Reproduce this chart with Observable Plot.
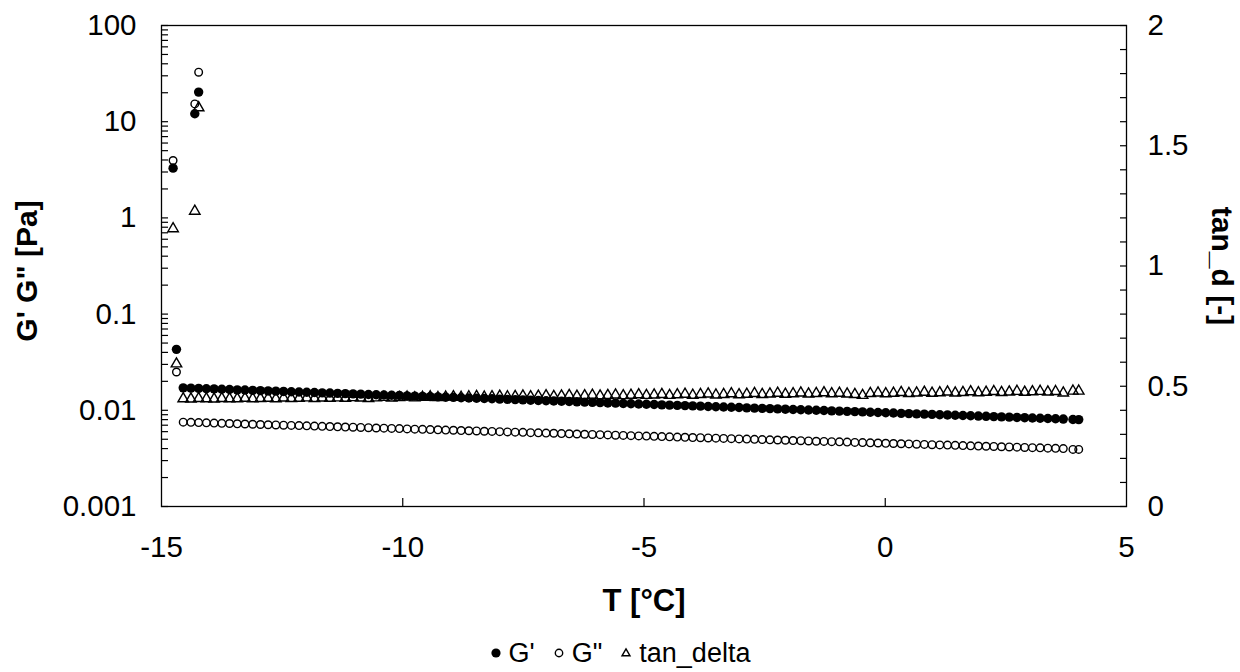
<!DOCTYPE html>
<html>
<head>
<meta charset="utf-8">
<script src="https://cdn.jsdelivr.net/npm/d3@7"></script>
<script src="https://cdn.jsdelivr.net/npm/@observablehq/plot@0.6"></script>
<style>
  html, body { margin: 0; padding: 0; background: #fff; }
  body { font-family: "Liberation Sans", Arial, sans-serif; width: 1240px; height: 672px; overflow: hidden; }
  #legend { width: 1240px; height: 38px; display: flex; justify-content: center; align-items: center; font-size: 27px; color: #000; gap: 18px; }
  #legend .item { display: flex; align-items: center; gap: 7px; }
</style>
</head>
<body>
<div id="chart"></div>
<div id="legend"></div>
<script>
// ---- data ----
const temperature = [
  -14.76, -14.69, -14.31, -14.23,
  -14.55, -14.39, -14.23, -14.07, -13.91, -13.75, -13.59, -13.43, -13.27, -13.11,
  -12.95, -12.79, -12.63, -12.47, -12.31, -12.15, -11.99, -11.83, -11.67, -11.51,
  -11.35, -11.19, -11.03, -10.87, -10.71, -10.55, -10.39, -10.23, -10.07, -9.91,
  -9.75, -9.59, -9.43, -9.27, -9.11, -8.95, -8.79, -8.63, -8.47, -8.31,
  -8.15, -7.99, -7.83, -7.67, -7.51, -7.35, -7.19, -7.03, -6.87, -6.71,
  -6.55, -6.39, -6.23, -6.07, -5.91, -5.75, -5.59, -5.43, -5.27, -5.11,
  -4.95, -4.79, -4.63, -4.47, -4.31, -4.15, -3.99, -3.83, -3.67, -3.51,
  -3.35, -3.19, -3.03, -2.87, -2.71, -2.55, -2.39, -2.23, -2.07, -1.91,
  -1.75, -1.59, -1.43, -1.27, -1.11, -0.95, -0.79, -0.63, -0.47, -0.31,
  -0.15, 0.01, 0.17, 0.33, 0.49, 0.65, 0.81, 0.97, 1.13, 1.29,
  1.45, 1.61, 1.77, 1.93, 2.09, 2.25, 2.41, 2.57, 2.73, 2.89,
  3.05, 3.21, 3.37, 3.53, 3.69,
  3.89, 4.01
];
const gPrime = [
  3.29, 0.043, 12.1, 20.3,
  0.01712, 0.01700, 0.01691, 0.01676, 0.01668, 0.01654, 0.01646, 0.01632, 0.01625, 0.01611,
  0.01603, 0.01590, 0.01582, 0.01571, 0.01560, 0.01551, 0.01540, 0.01531, 0.01519, 0.01511,
  0.01500, 0.01491, 0.01480, 0.01472, 0.01461, 0.01452, 0.01443, 0.01433, 0.01425, 0.01414,
  0.01405, 0.01397, 0.01387, 0.01379, 0.01369, 0.01361, 0.01352, 0.01343, 0.01334, 0.01326,
  0.01317, 0.01308, 0.01300, 0.01291, 0.01283, 0.01274, 0.01266, 0.01258, 0.01249, 0.01242,
  0.01233, 0.01225, 0.01217, 0.01209, 0.01201, 0.01193, 0.01186, 0.01178, 0.01170, 0.01163,
  0.01155, 0.01148, 0.01140, 0.01133, 0.01125, 0.01118, 0.01111, 0.01104, 0.01096, 0.01090,
  0.01082, 0.01075, 0.01068, 0.01061, 0.01054, 0.01047, 0.01040, 0.01034, 0.01027, 0.01020,
  0.01013, 0.01007, 0.01000, 0.00994, 0.00987, 0.00981, 0.00974, 0.00968, 0.00962, 0.00955,
  0.00949, 0.00943, 0.00937, 0.00930, 0.00924, 0.00918, 0.00912, 0.00906, 0.00900, 0.00895,
  0.00889, 0.00883, 0.00877, 0.00871, 0.00866, 0.00860, 0.00854, 0.00849, 0.00843, 0.00838,
  0.00832, 0.00827, 0.00821, 0.00816, 0.00811,
  0.00803, 0.00800
];
const gDoublePrime = [
  3.95, 0.025, 15.3, 32.7,
  0.00753, 0.00749, 0.00745, 0.00741, 0.00736, 0.00732, 0.00729, 0.00724, 0.00720, 0.00716,
  0.00712, 0.00708, 0.00704, 0.00700, 0.00697, 0.00693, 0.00689, 0.00685, 0.00681, 0.00678,
  0.00674, 0.00670, 0.00667, 0.00663, 0.00659, 0.00655, 0.00652, 0.00648, 0.00645, 0.00641,
  0.00637, 0.00634, 0.00630, 0.00627, 0.00623, 0.00620, 0.00616, 0.00613, 0.00610, 0.00606,
  0.00603, 0.00600, 0.00596, 0.00593, 0.00590, 0.00586, 0.00583, 0.00580, 0.00577, 0.00573,
  0.00570, 0.00567, 0.00564, 0.00561, 0.00558, 0.00555, 0.00551, 0.00548, 0.00545, 0.00542,
  0.00539, 0.00536, 0.00533, 0.00530, 0.00527, 0.00524, 0.00521, 0.00519, 0.00516, 0.00513,
  0.00510, 0.00507, 0.00504, 0.00502, 0.00499, 0.00496, 0.00493, 0.00491, 0.00488, 0.00485,
  0.00483, 0.00480, 0.00477, 0.00475, 0.00472, 0.00470, 0.00467, 0.00464, 0.00462, 0.00459,
  0.00457, 0.00454, 0.00452, 0.00449, 0.00447, 0.00444, 0.00442, 0.00439, 0.00437, 0.00435,
  0.00432, 0.00430, 0.00427, 0.00425, 0.00423, 0.00421, 0.00418, 0.00416, 0.00414, 0.00411,
  0.00409, 0.00407, 0.00404, 0.00402, 0.00400,
  0.00392, 0.00392
];
const tanDelta = [
  1.155, 0.593, 1.228, 1.658,
  0.448, 0.447, 0.449, 0.448, 0.447, 0.449, 0.448, 0.448, 0.450, 0.448,
  0.449, 0.450, 0.448, 0.451, 0.449, 0.450, 0.452, 0.449, 0.451, 0.450,
  0.452, 0.450, 0.453, 0.451, 0.449, 0.452, 0.454, 0.451, 0.453, 0.455,
  0.452, 0.454, 0.456, 0.453, 0.455, 0.457, 0.454, 0.456, 0.458, 0.455,
  0.457, 0.459, 0.456, 0.458, 0.460, 0.457, 0.459, 0.461, 0.458, 0.460,
  0.462, 0.459, 0.461, 0.463, 0.460, 0.462, 0.464, 0.461, 0.463, 0.465,
  0.462, 0.464, 0.466, 0.462, 0.465, 0.467, 0.463, 0.466, 0.468, 0.464,
  0.466, 0.469, 0.465, 0.467, 0.470, 0.466, 0.468, 0.471, 0.467, 0.469,
  0.472, 0.468, 0.470, 0.473, 0.469, 0.471, 0.468, 0.466, 0.462, 0.470,
  0.472, 0.469, 0.471, 0.474, 0.470, 0.472, 0.475, 0.471, 0.473, 0.476,
  0.472, 0.474, 0.477, 0.473, 0.475, 0.478, 0.474, 0.476, 0.479, 0.475,
  0.477, 0.479, 0.476, 0.478, 0.472,
  0.480, 0.480
];
const seriesNames = ["G'", "G\"", "tan_delta"];
const xTicks = [-15, -10, -5, 0, 5];
const yTicks = [0.001, 0.01, 0.1, 1, 10, 100];
const yTickLabels = ["0.001", "0.01", "0.1", "1", "10", "100"];
const rightTicks = [0, 0.5, 1, 1.5, 2];
const rightTickLabels = ["0", "0.5", "1", "1.5", "2"];
const xTitle = "T [°C]";
const yTitle = "G' G\" [Pa]";
const y2Title = "tan_d [-]";

// ---- build ----
const rows = temperature.map((t, i) => ({t, gp: gPrime[i], gpp: gDoublePrime[i], tan: tanDelta[i]}));
// secondary axis 0..2 mapped linearly onto the 5 decades of the primary log axis
const tanToY = v => Math.pow(10, -3 + 2.5 * v);
const logMinor = [];
for (let e = -3; e < 2; e++) for (let m = 1; m <= 9; m++) logMinor.push(m * Math.pow(10, e));
logMinor.push(100);
const rightMinor = d3.range(0, 21).map(k => tanToY(k / 10));
const rightLabelRows = rightTicks.map((v, i) => ({v, label: rightTickLabels[i]}));
const yLabel = d => yTickLabels[yTicks.findIndex(v => Math.abs(Math.log10(v) - Math.log10(d)) < 1e-6)] ?? "";

const H = 634;
const font = "Liberation Sans, Arial, sans-serif";
const chart = Plot.plot({
  width: 1240,
  height: H,
  marginLeft: 161,
  marginRight: 114,
  marginTop: 25,
  marginBottom: H - 506,
  x: {domain: [-15, 5]},
  y: {type: "log", domain: [0.001, 100]},
  style: {fontFamily: font, fontSize: "29px", color: "#000", background: "#fff", overflow: "visible"},
  marks: [
    // inward ticks
    Plot.axisY(logMinor, {anchor: "left", tickSize: 7, dx: 7, tickFormat: () => "", label: null, stroke: "#000", strokeWidth: 1.2}),
    Plot.axisY(rightMinor, {anchor: "right", tickSize: 7, dx: -7, tickFormat: () => "", label: null, stroke: "#000", strokeWidth: 1.2}),
    Plot.axisX(xTicks.slice(1, -1), {anchor: "bottom", tickSize: 8, dy: -8, tickFormat: () => "", label: null, stroke: "#000", strokeWidth: 1.2}),
    // tick labels
    Plot.axisY(yTicks, {anchor: "left", tickSize: 0, tickPadding: 25, tickFormat: yLabel, label: null, fontSize: 29.5}),
    Plot.text(rightLabelRows, {frameAnchor: "right", y: d => tanToY(d.v), text: "label", textAnchor: "start", dx: 21, fontSize: 29.5}),
    Plot.axisX(xTicks, {anchor: "bottom", tickSize: 0, tickPadding: 30, tickFormat: d => String(d), label: null, fontSize: 29.5}),
    // titles
    Plot.text([yTitle], {text: d => d, frameAnchor: "left", textAnchor: "middle", rotate: -90, dx: -134, dy: 5, fontWeight: "bold", fontSize: 30}),
    Plot.text([y2Title], {text: d => d, frameAnchor: "right", textAnchor: "middle", rotate: 90, dx: 95, dy: 0, fontWeight: "bold", fontSize: 30}),
    Plot.text([xTitle], {text: d => d, frameAnchor: "bottom", textAnchor: "middle", dy: 104, fontWeight: "bold", fontSize: 31}),
    // data
    Plot.dot(rows, {x: "t", y: d => tanToY(d.tan), symbol: "triangle", r: 3.9, stroke: "#000", strokeWidth: 1.4, fill: "none"}),
    Plot.dot(rows, {x: "t", y: "gpp", r: 3.8, stroke: "#000", strokeWidth: 1.4, fill: "none"}),
    Plot.dot(rows, {x: "t", y: "gp", r: 4.7, fill: "#000", stroke: "none"}),
    Plot.frame({stroke: "#000", strokeWidth: 1.3})
  ]
});
document.getElementById("chart").appendChild(chart);

// legend below the svg
const legendSymbols = [
  '<svg width="12" height="12"><circle cx="6" cy="6" r="4.6" fill="#000"/></svg>',
  '<svg width="12" height="12"><circle cx="6" cy="6" r="3.7" fill="none" stroke="#000" stroke-width="1.4"/></svg>',
  '<svg width="12" height="12"><path d="M6,1.8L10,8.8H2Z" fill="none" stroke="#000" stroke-width="1.4"/></svg>'
];
const legend = document.getElementById("legend");
seriesNames.forEach((name, i) => {
  const item = document.createElement("span");
  item.className = "item";
  item.innerHTML = legendSymbols[i] + "<span></span>";
  item.lastChild.textContent = name;
  legend.appendChild(item);
});
</script>
</body>
</html>
